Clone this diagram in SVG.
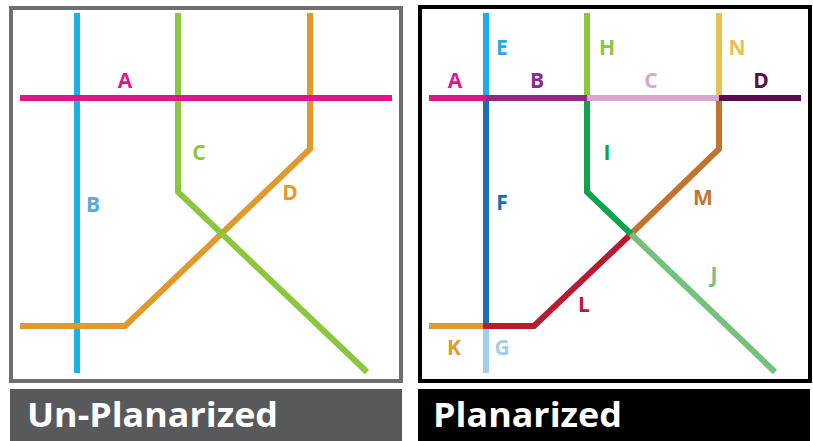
<svg xmlns="http://www.w3.org/2000/svg" width="813" height="441" viewBox="0 0 813 441">
<style>
.ln{fill:none;stroke-width:6;stroke-linejoin:miter;stroke-linecap:butt}
.lb{font-family:"Open Sans","Liberation Sans",sans-serif;font-weight:bold;font-size:21px;text-anchor:middle}
.ttl{font-family:"Open Sans","Liberation Sans",sans-serif;font-weight:bold;font-size:34px;fill:#ffffff}
</style>
<rect width="813" height="441" fill="#ffffff"/>
<g id="panel-left">
<rect x="11" y="8" width="390" height="373" fill="#ffffff" stroke="#6d6e70" stroke-width="4"/>
<rect x="10" y="389" width="392" height="52" fill="#58595b"/>
<text class="ttl" x="27" y="427" textLength="251" lengthAdjust="spacingAndGlyphs">Un-Planarized</text>
</g>
<g id="panel-right">
<rect x="420" y="7" width="390" height="374" fill="#ffffff" stroke="#000000" stroke-width="4"/>
<rect x="418" y="389" width="392" height="52" fill="#000000"/>
<text class="ttl" x="433" y="427" textLength="189" lengthAdjust="spacingAndGlyphs">Planarized</text>
</g>
<g id="connectors">
<line class="ln" x1="77" y1="13" x2="77" y2="373" stroke="#1eaee6"/>
<polyline class="ln" points="310,13 310,149 125,326 20,326" stroke="#e09a2c"/>
<polyline class="ln" points="178,13 178,192 367,372" stroke="#8cc63f"/>
<line class="ln" x1="20" y1="98" x2="392" y2="98" stroke="#df168b"/>
<line class="ln" x1="429" y1="98" x2="486" y2="98" stroke="#df168b"/>
<line class="ln" x1="486" y1="98" x2="587" y2="98" stroke="#8c2a8a"/>
<line class="ln" x1="587" y1="98" x2="719" y2="98" stroke="#dca4cf"/>
<line class="ln" x1="719" y1="98" x2="801" y2="98" stroke="#5c0b4f"/>
<line class="ln" x1="486" y1="13" x2="486" y2="95" stroke="#1eaee6"/>
<line class="ln" x1="486" y1="101" x2="486" y2="326" stroke="#1a6eb4"/>
<line class="ln" x1="486" y1="329" x2="486" y2="373" stroke="#a0cde9"/>
<line class="ln" x1="429" y1="326" x2="483" y2="326" stroke="#e09a2c"/>
<polyline class="ln" points="483,326 534,326 631,234" stroke="#b81a30"/>
<polyline class="ln" points="631,234 719,149 719,101" stroke="#c2742f"/>
<line class="ln" x1="719" y1="13" x2="719" y2="95" stroke="#e8c152"/>
<line class="ln" x1="587" y1="13" x2="587" y2="95" stroke="#8cc63f"/>
<polyline class="ln" points="587,101 587,192 631,234" stroke="#0fa34b"/>
<line class="ln" x1="631" y1="234" x2="775" y2="372" stroke="#74c17b"/>
</g>
<g id="labels">
<text class="lb" x="125" y="88" fill="#df168b">A</text>
<text class="lb" x="93" y="212" fill="#5aa9dd">B</text>
<text class="lb" x="199" y="160" fill="#8cc63f">C</text>
<text class="lb" x="290" y="200" fill="#e09a2c">D</text>
<text class="lb" x="455" y="88" fill="#df168b">A</text>
<text class="lb" x="537" y="88" fill="#8c2a8a">B</text>
<text class="lb" x="651" y="88" fill="#dca4cf">C</text>
<text class="lb" x="761" y="88" fill="#5c0b4f">D</text>
<text class="lb" x="502" y="55" fill="#1eaee6">E</text>
<text class="lb" x="502" y="210" fill="#1a6eb4">F</text>
<text class="lb" x="502" y="355" fill="#a0cde9">G</text>
<text class="lb" x="607" y="55" fill="#8cc63f">H</text>
<text class="lb" x="607" y="160" fill="#0fa34b">I</text>
<text class="lb" x="714" y="282" fill="#74c17b">J</text>
<text class="lb" x="454" y="355" fill="#e09a2c">K</text>
<text class="lb" x="584" y="312" fill="#b81a30">L</text>
<text class="lb" x="703" y="205" fill="#c2742f">M</text>
<text class="lb" x="737" y="55" fill="#e8c152">N</text>
</g>
</svg>
